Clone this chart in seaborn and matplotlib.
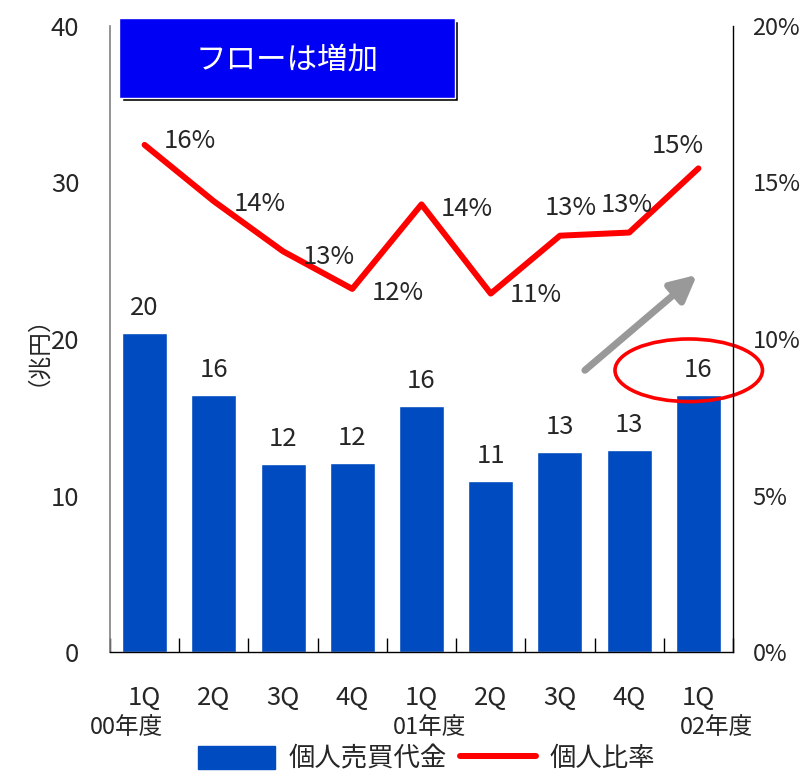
import numpy as np
import pandas as pd
import seaborn as sns
import matplotlib.pyplot as plt
from matplotlib.patches import Ellipse, Rectangle
from matplotlib.lines import Line2D
from matplotlib.patches import Patch

# --- data -------------------------------------------------------------
quarters = ["1Q", "2Q", "3Q", "4Q", "1Q", "2Q", "3Q", "4Q", "1Q"]
fiscal_years = ["00年度", "01年度", "02年度"]
fiscal_year_pos = [0, 4, 8]
trading_value = [20.4, 16.4, 12.0, 12.1, 15.7, 10.9, 12.8, 12.9, 16.4]   # 兆円
individual_ratio = [16.2, 14.4, 12.8, 11.6, 14.3, 11.45, 13.3, 13.4, 15.45]  # %
left_ticks = [0, 10, 20, 30, 40]
right_ticks = [0, 5, 10, 15, 20]

sns.set_theme(style="white")
plt.rcParams["font.family"] = ["Noto Sans CJK JP", "DejaVu Sans"]

pos = np.arange(len(quarters))
df = pd.DataFrame({"pos": pos, "value": trading_value, "ratio": individual_ratio})

fig = plt.figure(figsize=(8.05, 7.72), dpi=100)
ax = fig.add_axes([0.1366, 0.1554, 0.774, 0.8110])

FS = 18.5
bar_color = "#004BC0"
sns.barplot(data=df, x="pos", y="value", color=bar_color, width=0.65,
            saturation=1, ax=ax)
ax.set_xlim(-0.5, len(quarters) - 0.5)
ax.set_ylim(0, 40)
ax.set_yticks(left_ticks)
ax.set_yticklabels([str(t) for t in left_ticks], fontsize=FS)
ax.tick_params(axis="y", length=0, pad=22)
ax.set_xlabel("")
ax.set_ylabel("（兆円）", fontsize=17, labelpad=10)

# category boundaries as inward ticks on the bottom axis
ax.set_xticks(np.arange(-0.5, len(quarters), 1.0))
ax.set_xticklabels([])
ax.tick_params(axis="x", direction="in", length=10, width=1, color="black",
               bottom=True)

ax.spines["top"].set_visible(False)
ax.spines["left"].set_color("#808080")
ax.spines["left"].set_linewidth(1.2)
ax.spines["bottom"].set_color("black")
ax.spines["bottom"].set_linewidth(1.0)
ax.spines["right"].set_visible(False)

# bar value labels
for p, v in zip(pos, trading_value):
    ax.annotate(f"{v:.0f}", (p, v), xytext=(0, 18), textcoords="offset points",
                ha="center", va="center", fontsize=FS)

# quarter labels and fiscal year labels below the axis
for p, q in zip(pos, quarters):
    ax.annotate(q, (p, 0), xytext=(0, -33), textcoords="offset points",
                ha="center", va="center", fontsize=FS, annotation_clip=False)
year_shift = [-13, 6, 13]
for p, y, dx in zip(fiscal_year_pos, fiscal_years, year_shift):
    ax.annotate(y, (p, 0), xytext=(dx, -54), textcoords="offset points",
                ha="center", va="center", fontsize=17, annotation_clip=False)

# ratio line on the secondary axis
ax2 = ax.twinx()
sns.lineplot(data=df, x="pos", y="ratio", color="#FF0000", linewidth=4.3,
             ax=ax2, legend=False)
ax2.set_ylim(0, 20)
ax2.set_yticks(right_ticks)
ax2.set_yticklabels([f"{t}%" for t in right_ticks], fontsize=17)
ax2.tick_params(axis="y", length=0, pad=14)
ax2.set_ylabel("")
ax2.set_xlabel("")
ax2.spines["top"].set_visible(False)
ax2.spines["left"].set_visible(False)
ax2.spines["bottom"].set_visible(False)
ax2.spines["right"].set_color("black")
ax2.spines["right"].set_linewidth(1.0)

label_offsets = [(14, 3), (14, -2), (14, -4), (14, -3), (14, -3), (14, -1),
                 (8, 20), (-2, 20), (-15, 16)]
label_ha = ["left"] * 6 + ["center"] * 3
for p, r, off, ha in zip(pos, individual_ratio, label_offsets, label_ha):
    ax2.annotate(f"{r:.0f}%", (p, r), xytext=off, textcoords="offset points",
                 ha=ha, va="center", fontsize=FS)

# upward trend arrow
ax.annotate("", xy=(7.98, 24.1), xytext=(6.36, 18.0),
            arrowprops=dict(arrowstyle="-|>,head_length=1.3,head_width=0.65",
                            color="#999999", lw=5, shrinkA=0, shrinkB=0),
            zorder=5)

# highlight ellipse around the latest bar
ell = Ellipse((7.86, 18.0), width=2.13, height=4.0, fill=False,
              edgecolor="#FF0000", linewidth=2.6, clip_on=False, zorder=6)
ax.add_patch(ell)

# headline box with drop shadow
shadow = Rectangle((122 / 805, 1 - 101 / 772), 336 / 805, 80 / 772,
                   transform=fig.transFigure, facecolor="black", zorder=9)
box = Rectangle((119 / 805, 1 - 98 / 772), 336 / 805, 80 / 772,
                transform=fig.transFigure, facecolor="#0000F5", zorder=10)
fig.patches.extend([shadow, box])
fig.text(287 / 805, 1 - 60 / 772, "フローは増加", color="white", fontsize=22,
         ha="center", va="center", zorder=11)

# legend
handles = [Patch(facecolor=bar_color, edgecolor=bar_color),
           Line2D([0], [0], color="#FF0000", lw=4.3)]
fig.legend(handles, ["個人売買代金", "個人比率"], loc="center",
           bbox_to_anchor=(0.53, 0.017), ncol=2, frameon=False, fontsize=19,
           handlelength=2.9, handleheight=1.0, columnspacing=0.5,
           handletextpad=0.5)

fig.savefig("out.png", dpi=100)
